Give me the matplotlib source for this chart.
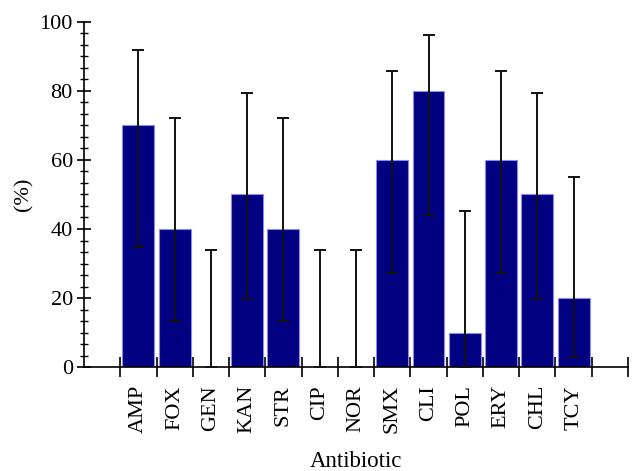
import matplotlib
matplotlib.use("Agg")
import matplotlib.pyplot as plt
import numpy as np
from matplotlib.ticker import MultipleLocator, AutoMinorLocator, FixedLocator, NullFormatter

plt.rcParams['font.family'] = ['Liberation Serif', 'DejaVu Serif']

# resistance (%) per antibiotic, with lower / upper confidence limits
antibiotics = ['AMP', 'FOX', 'GEN', 'KAN', 'STR', 'CIP', 'NOR',
               'SMX', 'CLI', 'POL', 'ERY', 'CHL', 'TCY']
percent = [70, 40, 0, 50, 40, 0, 0, 60, 80, 10, 60, 50, 20]
ci_low = [34.8, 13.4, 0, 19.6, 13.4, 0, 0, 27.3, 44.0, 0.0, 27.3, 19.6, 3.0]
ci_high = [91.8, 72.3, 33.9, 79.5, 72.3, 33.9, 33.9, 85.8, 96.3, 45.3, 85.8, 79.5, 55.2]

x = np.arange(len(antibiotics))
vals = np.array(percent)
yerr = np.array([vals - np.array(ci_low), np.array(ci_high) - vals])

fig = plt.figure(figsize=(6.43, 4.71), dpi=100)
ax = fig.add_axes([0.1306, 0.2208, 0.8461, 0.7325])

ax.bar(x, vals, width=0.88, color='#000080', edgecolor='#8c8cf0', linewidth=0.8, zorder=2)
ax.errorbar(x, vals, yerr=yerr, fmt='none', ecolor='#111111', elinewidth=1.4,
            capsize=4, capthick=1.4, zorder=3)

ax.set_xlim(-1.5, len(antibiotics) + 0.5)
ax.set_ylim(0, 100)

# y axis ticks crossing the spine
ax.yaxis.set_major_locator(MultipleLocator(20))
ax.yaxis.set_minor_locator(AutoMinorLocator(6))
ax.tick_params(axis='y', which='major', direction='inout', length=10, width=1.2, labelsize=16, pad=3)
ax.tick_params(axis='y', which='minor', direction='inout', length=6, width=1.0)

# x ticks at category boundaries, labels at centres
ax.xaxis.set_major_locator(FixedLocator(np.arange(-0.5, len(antibiotics) + 1, 1.0)))
ax.xaxis.set_major_formatter(NullFormatter())
ax.xaxis.set_minor_locator(FixedLocator(x))
ax.set_xticklabels(antibiotics, minor=True, rotation=90)
ax.tick_params(axis='x', which='major', direction='inout', length=14, width=1.2)
ax.tick_params(axis='x', which='minor', length=0, labelsize=16, pad=13)

for s in ['top', 'right']:
    ax.spines[s].set_visible(False)
for s in ['left', 'bottom']:
    ax.spines[s].set_linewidth(1.2)

ax.set_ylabel('(%)', fontsize=16, labelpad=4)
ax.set_xlabel('Antibiotic', fontsize=16.5, labelpad=13)

fig.savefig('out.png', dpi=100)
